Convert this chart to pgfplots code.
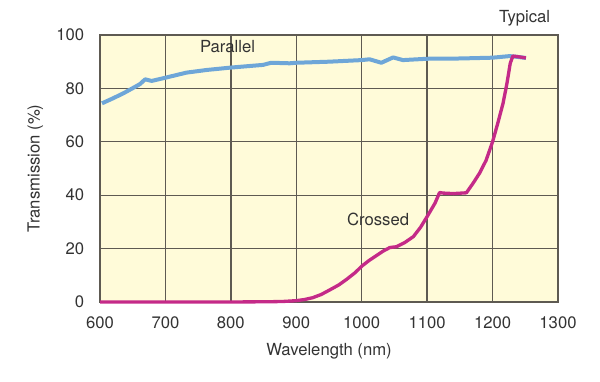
\documentclass[border=0pt]{standalone}
\usepackage{pgfplots}
\pgfplotsset{compat=1.18}
\usepackage{fontspec}
\setmainfont{TeX Gyre Heros}
\definecolor{bgyel}{HTML}{FFFBD9}
\definecolor{gridc}{HTML}{5E5A52}
\definecolor{parblue}{HTML}{6EA6D8}
\definecolor{crossmag}{HTML}{C42A88}
\definecolor{txt}{HTML}{333333}
\begin{document}
\begin{tikzpicture}
\begin{axis}[
  scale only axis,
  width=274.8pt, height=160.2pt,
  xmin=600, xmax=1300, ymin=0, ymax=100,
  xtick={600,700,...,1300}, ytick={0,20,...,100},
  grid=major,
  major grid style={gridc, line width=0.8pt},
  axis line style={gridc, line width=0.8pt},
  major tick length=0pt,
  axis background/.style={fill=bgyel},
  clip=false,
  /pgf/number format/assume math mode=true,
  /pgf/number format/1000 sep={},
  tick label style={font=\fontsize{10}{12}\selectfont, text=txt},
  xticklabel style={yshift=-5pt},
  yticklabel style={xshift=-6pt},
  label style={font=\fontsize{10}{12}\selectfont, text=txt},
  xlabel={Wavelength (nm)},
  ylabel={Transmission (\%)},
  xlabel style={yshift=-2.4pt},
  ylabel style={yshift=1pt},
]
\coordinate (sw) at (rel axis cs:0,0);
\coordinate (ne) at (rel axis cs:1,1);
\addplot[parblue, line width=2.4pt, line join=round] coordinates {
(603,74.4) (620,76.3) (636,78.2) (656,80.9) (661,81.6) (669,83.4) (679,82.8)
(700,84.0) (732,85.9) (763,86.9) (800,87.8) (849,88.8) (862,89.6) (890,89.4)
(900,89.6) (950,90.0) (1000,90.6) (1012,90.9) (1030,89.6) (1048,91.6) (1063,90.6)
(1100,91.1) (1150,91.2) (1200,91.5) (1226,92.1) (1238,91.8) (1251,91.4)
};
\addplot[crossmag, line width=2pt, line join=round] coordinates {
(600,0) (700,0) (800,0) (860,0.1) (880,0.2) (900,0.5) (912,0.9) (925,1.6) (938,2.8) (951,4.5)
(965,6.4) (977,8.5) (990,11.0) (1000,13.4) (1011,15.5) (1022,17.3) (1033,19.1)
(1043,20.4) (1053,20.7) (1066,22.3) (1079,24.5)
(1090,28.0) (1100,32.0) (1112,37) (1119,41) (1124,40.8) (1140,40.6) (1160,40.9)
(1170,44.4) (1180,48.2) (1190,53) (1200,60) (1208,67) (1216,74.4) (1222,81.9)
(1227,89.4) (1231,92.1) (1238,91.9) (1251,91.4)
};
\node[text=txt, font=\fontsize{10}{12}\selectfont] at (axis cs:795,95.5) {Parallel};
\node[text=txt, font=\fontsize{10}{12}\selectfont] at (axis cs:1025,31) {Crossed};
\node[text=txt, font=\fontsize{10}{12}\selectfont] at (axis cs:1249,106.4) {Typical};
\end{axis}
\pgfresetboundingbox
\path[use as bounding box] ([shift={(-60pt,-48pt)}]sw) rectangle ([shift={(25.2pt,21pt)}]ne);
\end{tikzpicture}
\end{document}
